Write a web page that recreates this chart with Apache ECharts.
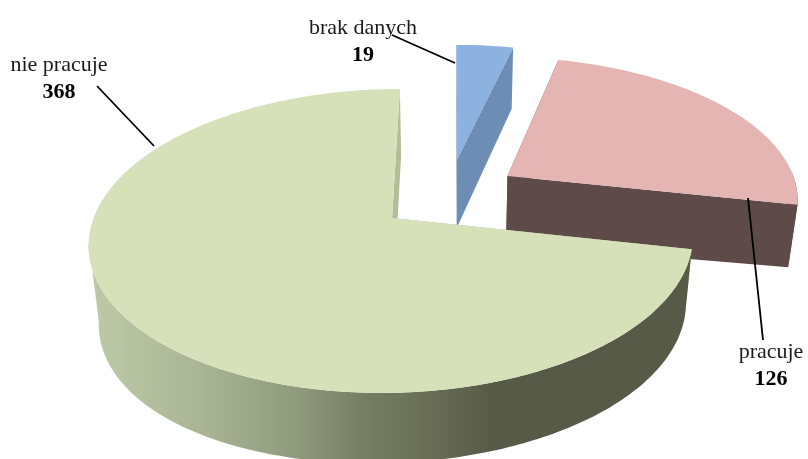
<!DOCTYPE html>
<html>
<head>
<meta charset="utf-8">
<style>html,body{margin:0;padding:0;background:#fff}#c{width:808px;height:459px}</style>
<script src="https://cdn.jsdelivr.net/npm/echarts@6/dist/echarts.min.js"></script>
</head>
<body>
<div id="c"></div>
<script>
// Data
const categories = ['brak danych', 'pracuje', 'nie pracuje'];
const values = [19, 126, 368];

// Slice styling and exploded offsets in the plane of the pie
const topColors = ['#8db2e0', '#e4b5b3', '#d6e1ba'];
const wallColors = ['#6d8db5', '#5e4b49', '#b3bd9a'];
const explodeU = [0.218, 0.395, 0];
const explodeV = [-0.415, -0.295, 0];

// Label layout: [x, y] of name centre, value centre, leader start, leader end
const namePos = [[363, 28], [771, 352], [59, 65]];
const valuePos = [[363, 55], [771, 379], [59, 92]];
const leaderFrom = [[392, 35], [763, 340], [97, 86]];
const leaderTo = [[455, 63], [748, 198], [154, 146]];

// Projection constants
const X0 = 451.5, Y0 = 218, B = 298.5, A = 148.5, K = 0.151, M = 0.028, D = 74, SH = -59.4 / 298.5;
function project(u, v, z) {
  const den = 1 - K * v + M * z;
  const depth = D * (1 - 0.089 * u) * (1 - (v > 0 ? 0.1 * v * v : 0));
  return [X0 + B * (u + SH) / den, Y0 + (A * v + depth * z) / den];
}
const total = values.reduce((a, b) => a + b, 0);
function sliceAngles(i) {
  let s = 0;
  for (let k = 0; k < i; k++) s += values[k];
  return [s / total * 360, (s + values[i]) / total * 360];
}
function rim(i, deg, z) {
  const t = deg * Math.PI / 180;
  return project(explodeU[i] + Math.sin(t), explodeV[i] - Math.cos(t), z);
}
function apex(i, z) { return project(explodeU[i], explodeV[i], z); }
function arc(i, a0, a1, z) {
  const pts = [], n = Math.max(2, Math.ceil(Math.abs(a1 - a0)));
  for (let j = 0; j <= n; j++) pts.push(rim(i, a0 + (a1 - a0) * j / n, z));
  return pts;
}
const greenWall = {
  type: 'linear', x: 0, y: 0, x2: 1, y2: 0,
  colorStops: [
    { offset: 0.02, color: '#bcc8a4' }, { offset: 0.19, color: '#a9b495' },
    { offset: 0.35, color: '#8f997c' }, { offset: 0.45, color: '#777e64' },
    { offset: 0.55, color: '#6c7059' }, { offset: 0.67, color: '#575a47' },
    { offset: 1, color: '#575a47' }
  ]
};
function poly(points, fill) {
  return { type: 'polygon', shape: { points }, style: { fill, stroke: null } };
}
function drawSlice(params, api) {
  const i = params.dataIndex;
  const [a0, a1] = sliceAngles(i);
  const kids = [];
  const wall = wallColors[i];
  // radial walls
  [a0, a1].forEach(a => {
    kids.push(poly([apex(i, 0), rim(i, a, 0), rim(i, a, 1), apex(i, 1)], wall));
  });
  // outer wall, front-facing part only
  const from = Math.max(a0, 88), to = Math.min(a1, 261);
  if (to > from) {
    kids.push(poly(arc(i, from, to, 0).concat(arc(i, to, from, 1)), to - from > 100 ? greenWall : wall));
  }
  // top face
  kids.push(poly([apex(i, 0)].concat(arc(i, a0, a1, 0)), topColors[i]));
  return { type: 'group', children: kids };
}
function drawLabel(params, api) {
  const i = params.dataIndex;
  const font = '"Liberation Serif", "Times New Roman", serif';
  return {
    type: 'group',
    children: [
      { type: 'line', shape: { x1: leaderFrom[i][0], y1: leaderFrom[i][1], x2: leaderTo[i][0], y2: leaderTo[i][1] },
        style: { stroke: '#000', lineWidth: 1.8 } },
      { type: 'text', style: { text: categories[i], x: namePos[i][0], y: namePos[i][1], textAlign: 'center', textVerticalAlign: 'middle',
        fontFamily: font, fontSize: 22, fill: '#1a1a1a' } },
      { type: 'text', style: { text: String(api.value(0)), x: valuePos[i][0], y: valuePos[i][1], textAlign: 'center', textVerticalAlign: 'middle',
        fontFamily: font, fontSize: 22, fontWeight: 'bold', fill: '#000' } }
    ]
  };
}
const chart = echarts.init(document.getElementById('c'), null, { renderer: 'canvas' });
chart.setOption({
  animation: false,
  backgroundColor: '#fff',
  series: [
    { type: 'custom', coordinateSystem: 'none', renderItem: drawSlice, silent: true, z: 2,
      data: values.map((v, i) => ({ name: categories[i], value: [v] })) },
    { type: 'custom', coordinateSystem: 'none', renderItem: drawLabel, silent: true, z: 3,
      data: values.map((v, i) => ({ name: categories[i], value: [v] })) }
  ]
});
</script>
</body>
</html>
